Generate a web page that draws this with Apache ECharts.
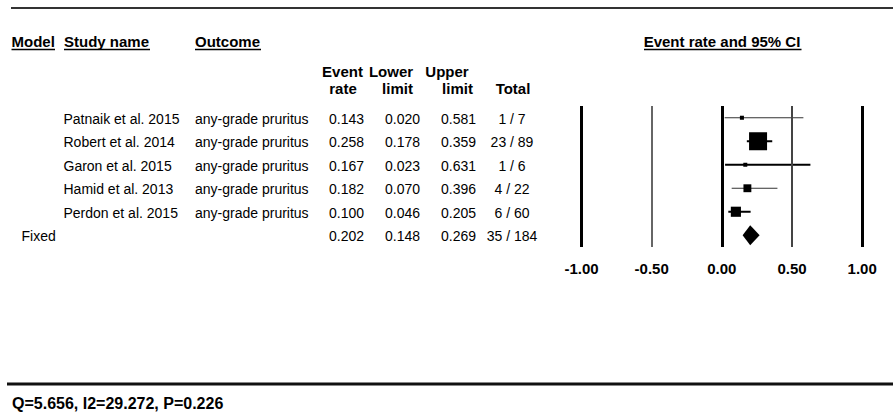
<!DOCTYPE html>
<html><head><meta charset="utf-8">
<script src="https://cdn.jsdelivr.net/npm/echarts@6/dist/echarts.min.js"></script>
<style>html,body{margin:0;padding:0;background:#fff}#c{width:893px;height:414px}</style>
</head><body><div id="c"></div>
<script>
// ---- data ----
const studies = ['Patnaik et al. 2015', 'Robert et al. 2014', 'Garon et al. 2015', 'Hamid et al. 2013', 'Perdon et al. 2015'];
const outcomes = ['any-grade pruritus', 'any-grade pruritus', 'any-grade pruritus', 'any-grade pruritus', 'any-grade pruritus'];
const eventRate = [0.143, 0.258, 0.167, 0.182, 0.100];
const lowerLimit = [0.020, 0.178, 0.023, 0.070, 0.046];
const upperLimit = [0.581, 0.359, 0.631, 0.396, 0.205];
const events = [1, 23, 1, 4, 6];
const totals = [7, 89, 6, 22, 60];
const summaryLabel = 'Fixed';
const summaryRate = 0.202, summaryLower = 0.148, summaryUpper = 0.269, summaryEvents = 35, summaryTotal = 184;
const xTicks = [-1, -0.5, 0, 0.5, 1];
const heterogeneity = 'Q=5.656, I2=29.272, P=0.226';
const plotTitle = 'Event rate and 95% CI';

// ---- style ----
const FF = "'Liberation Sans', Arial, sans-serif";
const fData = '14px ' + FF;
const fBold = 'bold 15px ' + FF;
const fFoot = 'bold 16px ' + FF;
const ciWidth = [1, 2, 2, 1, 2];
const ciColor = ['#333', '#000', '#000', '#333', '#000'];
const refStyle = { '-1': ['#000', 3], '-0.5': ['#666', 2], '0': ['#000', 3], '0.5': ['#444', 2], '1': ['#000', 3] };

const rows = studies.concat([summaryLabel]);
const fmt3 = v => v.toFixed(3);

function txt(text, x, y, align, font) {
  return { type: 'text', x: x, y: y, style: { text: text, x: 0, y: 0, font: font, fill: '#000',
    textAlign: align, align: align, textVerticalAlign: 'middle', verticalAlign: 'middle' } };
}

const chart = echarts.init(document.getElementById('c'), null, { renderer: 'svg' });

const studyData = studies.map((s, i) => [i, eventRate[i], lowerLimit[i], upperLimit[i], events[i], totals[i]]);
const tableData = rows.map((r, i) => [i]);

chart.setOption({
  animation: false,
  backgroundColor: '#fff',
  grid: { left: 581.5, right: 30.8, top: 106, height: 141, containLabel: false },
  xAxis: {
    type: 'value', min: -1, max: 1, interval: 0.5,
    axisLine: { show: false }, axisTick: { show: false }, splitLine: { show: false },
    axisLabel: { margin: 14, color: '#000', fontFamily: FF, fontWeight: 'bold', fontSize: 15,
      formatter: v => v.toFixed(2) }
  },
  yAxis: { type: 'category', data: rows, inverse: true, show: false },
  series: [
    {
      type: 'custom', name: 'studies', data: studyData, clip: false,
      renderItem: function (params, api) {
        const i = params.dataIndex;
        const row = api.value(0);
        const c = api.coord([api.value(1), row]);
        const l = api.coord([api.value(2), row]);
        const h = api.coord([api.value(3), row]);
        const ev = api.value(4), n = api.value(5);
        const side = 4.36 * Math.sqrt(ev * (n - ev) / n);
        return { type: 'group', children: [
          { type: 'line', shape: { x1: l[0], y1: c[1], x2: h[0], y2: c[1] },
            style: { stroke: ciColor[i], lineWidth: ciWidth[i] } },
          { type: 'rect', shape: { x: c[0] - side / 2, y: c[1] - side / 2, width: side, height: side },
            style: { fill: '#000' } }
        ] };
      },
      markLine: {
        silent: true, symbol: ['none', 'none'], label: { show: false },
        data: xTicks.map(v => ({ xAxis: v, lineStyle: { color: refStyle[String(v)][0], width: refStyle[String(v)][1], type: 'solid' } }))
      }
    },
    {
      type: 'custom', name: 'summary', clip: false,
      data: [[studies.length, summaryRate, summaryLower, summaryUpper]],
      renderItem: function (params, api) {
        const row = api.value(0);
        const c = api.coord([api.value(1), row]);
        const l = api.coord([api.value(2), row]);
        const h = api.coord([api.value(3), row]);
        return { type: 'polygon', shape: { points: [[l[0], c[1]], [c[0], c[1] - 10], [h[0], c[1]], [c[0], c[1] + 10]] },
          style: { fill: '#000' } };
      }
    },
    {
      type: 'custom', name: 'table', clip: false, data: tableData,
      renderItem: function (params, api) {
        const i = api.value(0);
        const y = api.coord([0, i])[1] + 1;
        const ch = [];
        if (i < studies.length) {
          ch.push(txt(studies[i], 63.5, y, 'left', fData));
          ch.push(txt(outcomes[i], 195, y, 'left', fData));
          ch.push(txt(fmt3(eventRate[i]), 364, y, 'right', fData));
          ch.push(txt(fmt3(lowerLimit[i]), 420, y, 'right', fData));
          ch.push(txt(fmt3(upperLimit[i]), 476, y, 'right', fData));
          ch.push(txt(events[i] + ' / ' + totals[i], 512, y, 'center', fData));
        } else {
          ch.push(txt(summaryLabel, 21.5, y, 'left', fData));
          ch.push(txt(fmt3(summaryRate), 364, y, 'right', fData));
          ch.push(txt(fmt3(summaryLower), 420, y, 'right', fData));
          ch.push(txt(fmt3(summaryUpper), 476, y, 'right', fData));
          ch.push(txt(summaryEvents + ' / ' + summaryTotal, 512, y, 'center', fData));
        }
        return { type: 'group', children: ch };
      }
    }
  ],
  graphic: [
    { type: 'line', shape: { x1: 11, y1: 8, x2: 893, y2: 8 }, style: { stroke: '#333', lineWidth: 2 } },
    { type: 'line', shape: { x1: 7, y1: 384, x2: 893, y2: 384 }, style: { stroke: '#111', lineWidth: 3 } },
    txt('Model', 11.5, 41.5, 'left', fBold),
    txt('Study name', 64, 41.5, 'left', fBold),
    txt('Outcome', 195, 41.5, 'left', fBold),
    txt(plotTitle, 722, 41.5, 'center', fBold),
    { type: 'line', shape: { x1: 11.5, y1: 49.5, x2: 55, y2: 49.5 }, style: { stroke: '#000', lineWidth: 1.5 } },
    { type: 'line', shape: { x1: 64, y1: 49.5, x2: 150, y2: 49.5 }, style: { stroke: '#000', lineWidth: 1.5 } },
    { type: 'line', shape: { x1: 195, y1: 49.5, x2: 261, y2: 49.5 }, style: { stroke: '#000', lineWidth: 1.5 } },
    { type: 'line', shape: { x1: 644, y1: 49.5, x2: 801.5, y2: 49.5 }, style: { stroke: '#000', lineWidth: 1.5 } },
    txt('Event', 342.5, 71, 'center', fBold),
    txt('rate', 343, 88.5, 'center', fBold),
    txt('Lower', 391, 71, 'center', fBold),
    txt('limit', 397.5, 88.5, 'center', fBold),
    txt('Upper', 447, 71, 'center', fBold),
    txt('limit', 457.5, 88.5, 'center', fBold),
    txt('Total', 513, 88.5, 'center', fBold),
    txt(heterogeneity, 12, 403, 'left', fFoot)
  ]
});
</script>
</body></html>
